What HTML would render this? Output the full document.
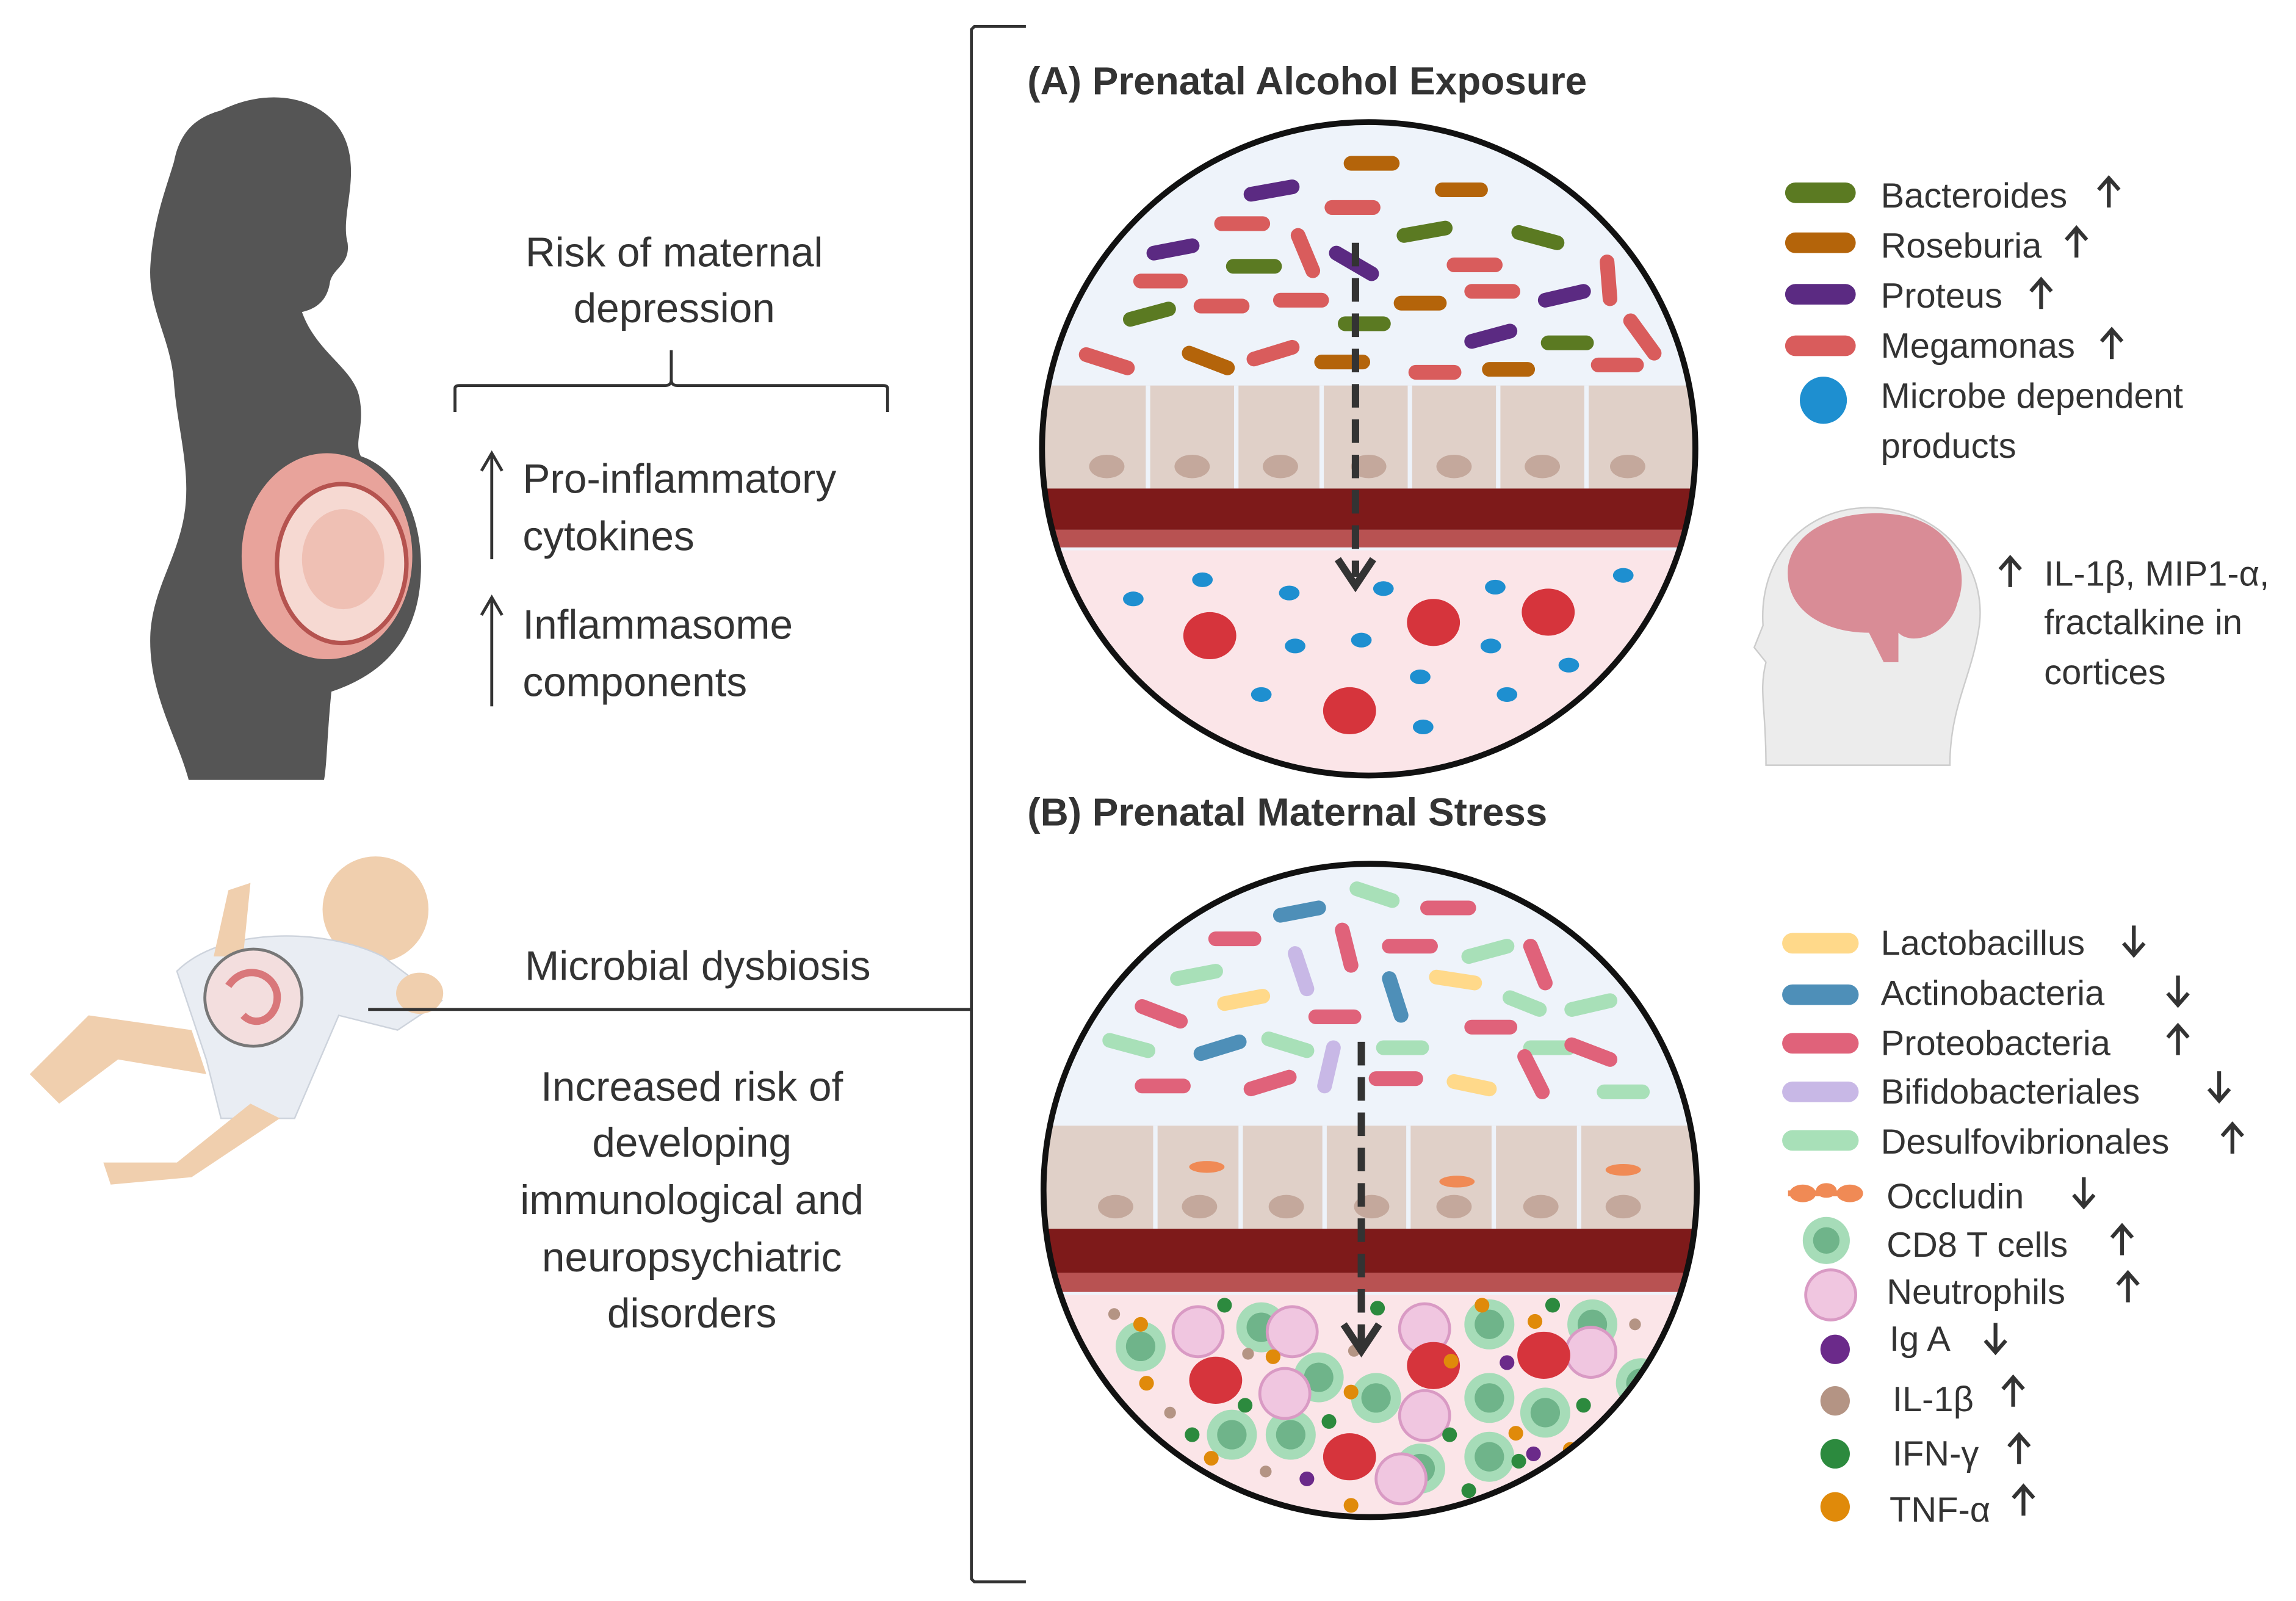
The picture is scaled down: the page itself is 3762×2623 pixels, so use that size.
<!DOCTYPE html>
<html><head><meta charset="utf-8"><style>
html,body{margin:0;padding:0;background:#fff}
svg{display:block}
text{font-family:"Liberation Sans","DejaVu Sans",sans-serif;fill:#333}
</style></head><body>
<svg width="3762" height="2623" viewBox="0 0 1560 1088" xmlns="http://www.w3.org/2000/svg">
<defs>
<clipPath id="ca"><circle cx="930" cy="305" r="222"/></clipPath>
<clipPath id="cb"><circle cx="931" cy="809" r="222"/></clipPath>
<g id="up"><line x1="0" y1="-10" x2="0" y2="10" stroke="#333" stroke-width="2.6"/><path d="M-7,-2 L0,-10 L7,-2" fill="none" stroke="#333" stroke-width="2.6"/></g>
<g id="dn"><line x1="0" y1="-10" x2="0" y2="10" stroke="#333" stroke-width="2.6"/><path d="M-7,2 L0,10 L7,2" fill="none" stroke="#333" stroke-width="2.6"/></g>
</defs>

<!-- woman silhouette -->
<path d="M150,75 C190,55 235,70 238,110 C240,130 232,150 236,165 C238,180 226,182 224,192 C222,205 214,210 205,212 C215,240 240,250 244,270 C248,290 240,300 245,310 C275,320 290,360 285,400 C280,440 255,460 225,470 C222,500 222,520 220,530 L128,530 C120,500 100,470 102,430 C104,400 120,380 125,350 C130,320 120,290 118,260 C116,230 100,210 102,180 C104,150 112,130 118,110 C122,90 132,80 150,75 Z" fill="#555"/>
<ellipse cx="222" cy="378" rx="58" ry="70" fill="#e8a39b"/>
<ellipse cx="232" cy="383" rx="44" ry="54" fill="#f6d9d2" stroke="#b5534f" stroke-width="3"/>
<ellipse cx="233" cy="380" rx="28" ry="34" fill="#efc0b4"/>

<!-- baby -->
<g>
<circle cx="255" cy="618" r="36" fill="#f0cfae"/>
<path d="M120,660 C150,630 220,630 260,650 L300,680 L270,700 L230,690 L200,760 L150,760 L140,720 Z" fill="#e9edf3" stroke="#cdd3dc"/>
<path d="M130,700 L60,690 L20,730 L40,750 L80,720 L140,730 Z" fill="#f0cfae"/>
<path d="M170,750 L120,790 L70,790 L75,805 L130,800 L190,760 Z" fill="#f0cfae"/>
<path d="M145,650 L155,605 L170,600 L165,650 Z" fill="#f0cfae"/>
<ellipse cx="285" cy="675" rx="16" ry="14" fill="#f0cfae"/>
<circle cx="172" cy="678" r="33" fill="#f3dede" stroke="#777" stroke-width="2"/>
<path d="M155,670 C165,655 185,660 188,675 C190,690 175,700 165,690" fill="none" stroke="#d9777a" stroke-width="5"/>
</g>

<!-- left texts -->
<g font-size="28">
<text x="458" y="181" text-anchor="middle">Risk of maternal</text>
<text x="458" y="219" text-anchor="middle">depression</text>
<text x="355" y="335">Pro-inflammatory</text>
<text x="355" y="374">cytokines</text>
<text x="355" y="434">Inflammasome</text>
<text x="355" y="473">components</text>
<text x="474" y="666" text-anchor="middle">Microbial dysbiosis</text>
<g text-anchor="middle">
<text x="470" y="748">Increased risk of</text>
<text x="470" y="786">developing</text>
<text x="470" y="825">immunological and</text>
<text x="470" y="864">neuropsychiatric</text>
<text x="470" y="902">disorders</text>
</g>
</g>
<path d="M309,280 L309,264 Q309,262 312,262 L452,262 Q456,262 456,258 L456,238 M456,258 Q456,262 460,262 L600,262 Q603,262 603,264 L603,280" fill="none" stroke="#333" stroke-width="2"/>
<line x1="334" y1="380" x2="334" y2="310" stroke="#333" stroke-width="2"/>
<path d="M327,320 L334,308 L341,320" fill="none" stroke="#333" stroke-width="2"/>
<line x1="334" y1="480" x2="334" y2="408" stroke="#333" stroke-width="2"/>
<path d="M327,418 L334,406 L341,418" fill="none" stroke="#333" stroke-width="2"/>
<line x1="250" y1="686" x2="660" y2="686" stroke="#333" stroke-width="2"/>
<path d="M697,18 L662,18 L660,20 L660,1073 L662,1075 L697,1075" fill="none" stroke="#333" stroke-width="2"/>

<!-- titles -->
<text x="698" y="64" font-size="26.5" font-weight="bold" fill="#222">(A) Prenatal Alcohol Exposure</text>
<text x="698" y="561" font-size="26.5" font-weight="bold" fill="#222">(B) Prenatal Maternal Stress</text>

<!-- circle A -->
<g clip-path="url(#ca)">
<rect x="700" y="80" width="460" height="450" fill="#eef3fa"/>
<rect x="700" y="262" width="460" height="70" fill="#e0d0c8"/>
<g fill="#c4a89c"><ellipse cx="752" cy="317" rx="12" ry="8"/><ellipse cx="810" cy="317" rx="12" ry="8"/><ellipse cx="870" cy="317" rx="12" ry="8"/><ellipse cx="930" cy="317" rx="12" ry="8"/><ellipse cx="988" cy="317" rx="12" ry="8"/><ellipse cx="1048" cy="317" rx="12" ry="8"/><ellipse cx="1106" cy="317" rx="12" ry="8"/></g>
<g stroke="#eef3fa" stroke-width="3"><line x1="780" y1="262" x2="780" y2="332"/><line x1="840" y1="262" x2="840" y2="332"/><line x1="898" y1="262" x2="898" y2="332"/><line x1="958" y1="262" x2="958" y2="332"/><line x1="1018" y1="262" x2="1018" y2="332"/><line x1="1078" y1="262" x2="1078" y2="332"/></g>
<rect x="700" y="332" width="460" height="28" fill="#7e1a1a"/>
<rect x="700" y="360" width="460" height="12" fill="#b85252"/>
<rect x="700" y="374" width="460" height="160" fill="#fbe5e8"/>
<g stroke-linecap="round" stroke-width="10" fill="none">
<line x1="918" y1="111" x2="946" y2="111" stroke="#b4640a"/>
<line x1="850" y1="132" x2="878" y2="127" stroke="#5b2a82"/>
<line x1="980" y1="129" x2="1006" y2="129" stroke="#b4640a"/>
<line x1="905" y1="141" x2="933" y2="141" stroke="#d95c5c"/>
<line x1="830" y1="152" x2="858" y2="152" stroke="#d95c5c"/>
<line x1="954" y1="160" x2="982" y2="155" stroke="#5b7a22"/>
<line x1="1032" y1="158" x2="1058" y2="165" stroke="#5b7a22"/>
<line x1="784" y1="172" x2="810" y2="167" stroke="#5b2a82"/>
<line x1="882" y1="160" x2="892" y2="184" stroke="#d95c5c"/>
<line x1="838" y1="181" x2="866" y2="181" stroke="#5b7a22"/>
<line x1="908" y1="172" x2="932" y2="186" stroke="#5b2a82"/>
<line x1="988" y1="180" x2="1016" y2="180" stroke="#d95c5c"/>
<line x1="775" y1="191" x2="802" y2="191" stroke="#d95c5c"/>
<line x1="1092" y1="178" x2="1094" y2="203" stroke="#d95c5c"/>
<line x1="870" y1="204" x2="898" y2="204" stroke="#d95c5c"/>
<line x1="952" y1="206" x2="978" y2="206" stroke="#b4640a"/>
<line x1="1000" y1="198" x2="1028" y2="198" stroke="#d95c5c"/>
<line x1="1050" y1="204" x2="1076" y2="198" stroke="#5b2a82"/>
<line x1="816" y1="208" x2="844" y2="208" stroke="#d95c5c"/>
<line x1="768" y1="217" x2="794" y2="210" stroke="#5b7a22"/>
<line x1="914" y1="220" x2="940" y2="220" stroke="#5b7a22"/>
<line x1="1000" y1="232" x2="1026" y2="225" stroke="#5b2a82"/>
<line x1="1052" y1="233" x2="1078" y2="233" stroke="#5b7a22"/>
<line x1="1108" y1="218" x2="1124" y2="240" stroke="#d95c5c"/>
<line x1="738" y1="241" x2="766" y2="250" stroke="#d95c5c"/>
<line x1="808" y1="240" x2="834" y2="250" stroke="#b4640a"/>
<line x1="852" y1="244" x2="878" y2="236" stroke="#d95c5c"/>
<line x1="898" y1="246" x2="926" y2="246" stroke="#b4640a"/>
<line x1="962" y1="253" x2="988" y2="253" stroke="#d95c5c"/>
<line x1="1012" y1="251" x2="1038" y2="251" stroke="#b4640a"/>
<line x1="1086" y1="248" x2="1112" y2="248" stroke="#d95c5c"/>
</g>
<g fill="#1e8fd0">
<ellipse cx="770" cy="407" rx="7" ry="5"/><ellipse cx="817" cy="394" rx="7" ry="5"/><ellipse cx="876" cy="403" rx="7" ry="5"/><ellipse cx="940" cy="400" rx="7" ry="5"/><ellipse cx="1016" cy="399" rx="7" ry="5"/><ellipse cx="1103" cy="391" rx="7" ry="5"/><ellipse cx="880" cy="439" rx="7" ry="5"/><ellipse cx="925" cy="435" rx="7" ry="5"/><ellipse cx="1013" cy="439" rx="7" ry="5"/><ellipse cx="1066" cy="452" rx="7" ry="5"/><ellipse cx="965" cy="460" rx="7" ry="5"/><ellipse cx="857" cy="472" rx="7" ry="5"/><ellipse cx="1024" cy="472" rx="7" ry="5"/><ellipse cx="967" cy="494" rx="7" ry="5"/>
</g>
<g fill="#d6343c">
<ellipse cx="822" cy="432" rx="18" ry="16"/><ellipse cx="974" cy="423" rx="18" ry="16"/><ellipse cx="1052" cy="416" rx="18" ry="16"/><ellipse cx="917" cy="483" rx="18" ry="16"/>
</g>
</g>
<circle cx="930" cy="305" r="222" fill="none" stroke="#111" stroke-width="4"/>
<line x1="921" y1="165" x2="921" y2="392" stroke="#333" stroke-width="5" stroke-dasharray="16,8"/>
<path d="M909,380 L921,398 L933,380" fill="none" stroke="#333" stroke-width="5"/>

<!-- circle B -->
<g clip-path="url(#cb)">
<rect x="700" y="585" width="460" height="450" fill="#eef3fa"/>
<rect x="700" y="765" width="460" height="70" fill="#e0d0c8"/>
<g fill="#c4a89c"><ellipse cx="758" cy="820" rx="12" ry="8"/><ellipse cx="815" cy="820" rx="12" ry="8"/><ellipse cx="874" cy="820" rx="12" ry="8"/><ellipse cx="932" cy="820" rx="12" ry="8"/><ellipse cx="988" cy="820" rx="12" ry="8"/><ellipse cx="1047" cy="820" rx="12" ry="8"/><ellipse cx="1103" cy="820" rx="12" ry="8"/></g>
<g stroke="#eef3fa" stroke-width="3"><line x1="785" y1="765" x2="785" y2="835"/><line x1="843" y1="765" x2="843" y2="835"/><line x1="900" y1="765" x2="900" y2="835"/><line x1="957" y1="765" x2="957" y2="835"/><line x1="1015" y1="765" x2="1015" y2="835"/><line x1="1073" y1="765" x2="1073" y2="835"/></g>
<g fill="#f08a55"><ellipse cx="820" cy="793" rx="12" ry="4"/><ellipse cx="990" cy="803" rx="12" ry="4"/><ellipse cx="1103" cy="795" rx="12" ry="4"/></g>
<rect x="700" y="835" width="460" height="30" fill="#7e1a1a"/>
<rect x="700" y="865" width="460" height="13" fill="#b85252"/>
<rect x="700" y="880" width="460" height="160" fill="#fbe5e8"/>
<g stroke-linecap="round" stroke-width="10" fill="none">
<line x1="922" y1="604" x2="946" y2="612" stroke="#a8e0b8"/>
<line x1="970" y1="617" x2="998" y2="617" stroke="#e0627a"/>
<line x1="870" y1="622" x2="896" y2="617" stroke="#4e8fb8"/>
<line x1="826" y1="638" x2="852" y2="638" stroke="#e0627a"/>
<line x1="880" y1="648" x2="888" y2="672" stroke="#c8b8e6"/>
<line x1="912" y1="632" x2="918" y2="656" stroke="#e0627a"/>
<line x1="944" y1="643" x2="972" y2="643" stroke="#e0627a"/>
<line x1="998" y1="650" x2="1024" y2="643" stroke="#a8e0b8"/>
<line x1="1040" y1="643" x2="1050" y2="668" stroke="#e0627a"/>
<line x1="800" y1="665" x2="826" y2="660" stroke="#a8e0b8"/>
<line x1="976" y1="664" x2="1002" y2="668" stroke="#ffd98a"/>
<line x1="832" y1="682" x2="858" y2="677" stroke="#ffd98a"/>
<line x1="944" y1="665" x2="952" y2="690" stroke="#4e8fb8"/>
<line x1="1026" y1="678" x2="1046" y2="686" stroke="#a8e0b8"/>
<line x1="1068" y1="686" x2="1094" y2="680" stroke="#a8e0b8"/>
<line x1="776" y1="684" x2="802" y2="694" stroke="#e0627a"/>
<line x1="894" y1="691" x2="920" y2="691" stroke="#e0627a"/>
<line x1="1000" y1="698" x2="1026" y2="698" stroke="#e0627a"/>
<line x1="754" y1="707" x2="780" y2="714" stroke="#a8e0b8"/>
<line x1="816" y1="716" x2="842" y2="708" stroke="#4e8fb8"/>
<line x1="862" y1="706" x2="888" y2="714" stroke="#a8e0b8"/>
<line x1="906" y1="712" x2="900" y2="738" stroke="#c8b8e6"/>
<line x1="940" y1="712" x2="966" y2="712" stroke="#a8e0b8"/>
<line x1="1040" y1="712" x2="1066" y2="712" stroke="#a8e0b8"/>
<line x1="1068" y1="710" x2="1094" y2="720" stroke="#e0627a"/>
<line x1="776" y1="738" x2="804" y2="738" stroke="#e0627a"/>
<line x1="850" y1="740" x2="876" y2="732" stroke="#e0627a"/>
<line x1="935" y1="733" x2="962" y2="733" stroke="#e0627a"/>
<line x1="988" y1="735" x2="1012" y2="740" stroke="#ffd98a"/>
<line x1="1036" y1="718" x2="1048" y2="742" stroke="#e0627a"/>
<line x1="1090" y1="742" x2="1116" y2="742" stroke="#a8e0b8"/>
</g>
<g>
<g fill="#a6dcb8"><circle cx="775" cy="915" r="17"/><circle cx="857" cy="902" r="17"/><circle cx="896" cy="936" r="17"/><circle cx="935" cy="950" r="17"/><circle cx="837" cy="975" r="17"/><circle cx="877" cy="975" r="17"/><circle cx="1012" cy="900" r="17"/><circle cx="1082" cy="900" r="17"/><circle cx="1012" cy="950" r="17"/><circle cx="1050" cy="960" r="17"/><circle cx="1012" cy="990" r="17"/><circle cx="965" cy="998" r="17"/><circle cx="1115" cy="940" r="17"/></g>
<g fill="#6fb48a"><circle cx="775" cy="915" r="10"/><circle cx="857" cy="902" r="10"/><circle cx="896" cy="936" r="10"/><circle cx="935" cy="950" r="10"/><circle cx="837" cy="975" r="10"/><circle cx="877" cy="975" r="10"/><circle cx="1012" cy="900" r="10"/><circle cx="1082" cy="900" r="10"/><circle cx="1012" cy="950" r="10"/><circle cx="1050" cy="960" r="10"/><circle cx="1012" cy="990" r="10"/><circle cx="965" cy="998" r="10"/><circle cx="1115" cy="940" r="10"/></g>
<g fill="#f0c6e0" stroke="#d99ac4" stroke-width="2"><circle cx="814" cy="905" r="17"/><circle cx="878" cy="905" r="17"/><circle cx="873" cy="947" r="17"/><circle cx="968" cy="903" r="17"/><circle cx="968" cy="962" r="17"/><circle cx="1081" cy="919" r="17"/><circle cx="952" cy="1005" r="17"/></g>
<g fill="#d6343c"><ellipse cx="826" cy="938" rx="18" ry="16"/><ellipse cx="974" cy="928" rx="18" ry="16"/><ellipse cx="1049" cy="921" rx="18" ry="16"/><ellipse cx="917" cy="990" rx="18" ry="16"/></g>
<g fill="#e08a0a"><circle cx="775" cy="900" r="5"/><circle cx="779" cy="940" r="5"/><circle cx="865" cy="922" r="5"/><circle cx="918" cy="946" r="5"/><circle cx="823" cy="991" r="5"/><circle cx="1007" cy="887" r="5"/><circle cx="1043" cy="898" r="5"/><circle cx="986" cy="925" r="5"/><circle cx="1030" cy="974" r="5"/><circle cx="918" cy="1023" r="5"/><circle cx="1067" cy="985" r="5"/></g>
<g fill="#2c8a3e"><circle cx="832" cy="887" r="5"/><circle cx="846" cy="955" r="5"/><circle cx="810" cy="975" r="5"/><circle cx="903" cy="966" r="5"/><circle cx="936" cy="889" r="5"/><circle cx="985" cy="975" r="5"/><circle cx="1055" cy="887" r="5"/><circle cx="1076" cy="955" r="5"/><circle cx="998" cy="1013" r="5"/><circle cx="1032" cy="993" r="5"/></g>
<g fill="#b49484"><circle cx="757" cy="893" r="4"/><circle cx="795" cy="960" r="4"/><circle cx="848" cy="920" r="4"/><circle cx="860" cy="1000" r="4"/><circle cx="920" cy="918" r="4"/><circle cx="1111" cy="900" r="4"/><circle cx="1095" cy="985" r="4"/></g>
<g fill="#6b2a8a"><circle cx="888" cy="1005" r="5"/><circle cx="1024" cy="926" r="5"/><circle cx="1042" cy="988" r="5"/></g>
</g>
</g>
<circle cx="931" cy="809" r="222" fill="none" stroke="#111" stroke-width="4"/>
<line x1="925" y1="708" x2="925" y2="915" stroke="#333" stroke-width="5" stroke-dasharray="16,8"/>
<path d="M913,900 L925,918 L937,900" fill="none" stroke="#333" stroke-width="5"/>

<!-- legend A -->
<g stroke-linecap="round" stroke-width="14">
<line x1="1220" y1="131" x2="1254" y2="131" stroke="#5b7a22"/>
<line x1="1220" y1="165" x2="1254" y2="165" stroke="#b4640a"/>
<line x1="1220" y1="200" x2="1254" y2="200" stroke="#5b2a82"/>
<line x1="1220" y1="235" x2="1254" y2="235" stroke="#d95c5c"/>
</g>
<circle cx="1239" cy="272" r="16" fill="#1e8fd0"/>
<g font-size="24">
<text x="1278" y="141">Bacteroides</text>
<text x="1278" y="175">Roseburia</text>
<text x="1278" y="209">Proteus</text>
<text x="1278" y="243">Megamonas</text>
<text x="1278" y="277">Microbe dependent</text>
<text x="1278" y="311">products</text>
<text x="1389" y="398">IL-1β, MIP1-α,</text>
<text x="1389" y="431">fractalkine in</text>
<text x="1389" y="465">cortices</text>
</g>
<use href="#up" x="1433" y="131"/><use href="#up" x="1411" y="165"/><use href="#up" x="1387" y="200"/><use href="#up" x="1435" y="234"/><use href="#up" x="1366" y="389"/>
<!-- child head -->
<path d="M1200,520 C1200,480 1195,470 1200,450 L1192,440 L1198,425 C1195,380 1225,345 1270,345 C1320,345 1350,385 1345,425 C1340,460 1325,480 1325,520 Z" fill="#ececec" stroke="#ccc"/>
<path d="M1215,385 C1220,355 1260,345 1290,350 C1325,355 1340,385 1330,410 C1325,430 1300,440 1290,430 L1290,450 L1280,450 L1270,430 C1240,430 1212,415 1215,385 Z" fill="#d98c96"/>

<!-- legend B -->
<g stroke-linecap="round" stroke-width="14">
<line x1="1218" y1="641" x2="1256" y2="641" stroke="#ffd98a"/>
<line x1="1218" y1="676" x2="1256" y2="676" stroke="#4e8fb8"/>
<line x1="1218" y1="709" x2="1256" y2="709" stroke="#e0627a"/>
<line x1="1218" y1="742" x2="1256" y2="742" stroke="#c8b8e6"/>
<line x1="1218" y1="775" x2="1256" y2="775" stroke="#a8e0b8"/>
</g>
<g fill="#f08a55"><ellipse cx="1225" cy="811" rx="9" ry="6"/><ellipse cx="1241" cy="809" rx="7" ry="5"/><ellipse cx="1257" cy="811" rx="9" ry="6"/></g>
<line x1="1215" y1="811" x2="1265" y2="811" stroke="#f08a55" stroke-width="4"/>
<circle cx="1241" cy="843" r="16" fill="#a6dcb8"/><circle cx="1241" cy="843" r="9" fill="#6fb48a"/>
<circle cx="1244" cy="880" r="17" fill="#f0c6e0" stroke="#d99ac4" stroke-width="2"/>
<circle cx="1247" cy="917" r="10" fill="#6b2a8a"/>
<circle cx="1247" cy="952" r="10" fill="#b49484"/>
<circle cx="1247" cy="988" r="10" fill="#2c8a3e"/>
<circle cx="1247" cy="1024" r="10" fill="#e08a0a"/>
<g font-size="24">
<text x="1278" y="649">Lactobacillus</text>
<text x="1278" y="683">Actinobacteria</text>
<text x="1278" y="717">Proteobacteria</text>
<text x="1278" y="750">Bifidobacteriales</text>
<text x="1278" y="784">Desulfovibrionales</text>
<text x="1282" y="821">Occludin</text>
<text x="1282" y="854">CD8 T cells</text>
<text x="1282" y="886">Neutrophils</text>
<text x="1284" y="918">Ig A</text>
<text x="1286" y="959">IL-1β</text>
<text x="1286" y="996">IFN-γ</text>
<text x="1284" y="1034">TNF-α</text>
</g>
<use href="#dn" x="1450" y="639"/><use href="#dn" x="1480" y="673"/><use href="#up" x="1480" y="707"/><use href="#dn" x="1508" y="738"/><use href="#up" x="1517" y="774"/>
<use href="#dn" x="1416" y="810"/><use href="#up" x="1442" y="843"/><use href="#up" x="1446" y="875"/><use href="#dn" x="1356" y="909"/><use href="#up" x="1368" y="946"/><use href="#up" x="1372" y="985"/><use href="#up" x="1375" y="1020"/>
</svg>
</body></html>
